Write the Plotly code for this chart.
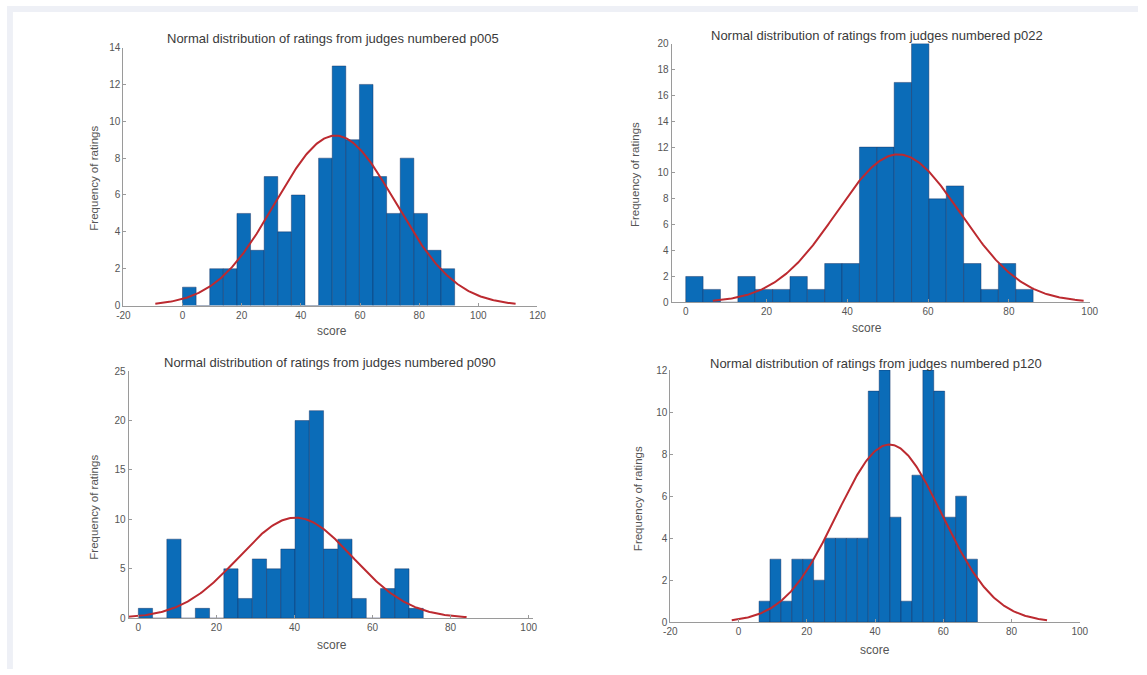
import numpy as np
import plotly.graph_objects as go

W, H = 1147, 675

# ---- data ----
judges = ["p005", "p022", "p090", "p120"]

counts_p005 = [1, 0, 2, 2, 5, 3, 7, 4, 6, 0, 8, 13, 9, 12, 7, 5, 8, 5, 3, 2]
counts_p022 = [2, 1, 0, 2, 1, 1, 2, 1, 3, 3, 12, 12, 17, 20, 8, 9, 3, 1, 3, 1]
counts_p090 = [1, 0, 8, 0, 1, 0, 5, 2, 6, 5, 7, 20, 21, 7, 8, 2, 0, 3, 5, 1]
counts_p120 = [1, 3, 1, 3, 3, 2, 4, 4, 4, 4, 11, 12, 5, 1, 7, 12, 11, 5, 6, 3]

bin_start = [0.0, 0.0, 0.0, 6.0]
bin_width = [4.6, 4.3, 3.65, 3.2]

fit_mean = [51.7, 52.6, 40.3, 44.2]
fit_std = [20.3, 15.3, 14.6, 15.4]

x_ranges = [[-20, 120], [-3.5, 100], [-2.5, 101], [-20, 100]]
y_ranges = [[0, 14], [0, 20], [0, 25], [0, 12]]
x_ticks = [[-20, 0, 20, 40, 60, 80, 100, 120], [0, 20, 40, 60, 80, 100],
           [0, 20, 40, 60, 80, 100], [-20, 0, 20, 40, 60, 80, 100]]
y_ticks = [list(range(0, 15, 2)), list(range(0, 21, 2)), list(range(0, 26, 5)), list(range(0, 13, 2))]

all_counts = [counts_p005, counts_p022, counts_p090, counts_p120]

# ---- layout geometry (pixels) ----
# (left, right, bottom, top) of each plot area
boxes = [(118, 538, 305, 42.3), (674, 1098, 301.7, 38.3),
         (123.3, 533, 623.3, 371.7), (672.7, 1088, 627.3, 370.7)]
title_pos = [(331, 33), (882, 30), (328, 363), (881, 364)]
xlabel_pos = [(330, 331), (872, 328), (330, 651), (880, 656)]
ylabel_pos = [(88, 175), (637, 172), (88, 510), (640, 502)]

BAR = "#0b6cb8"
EDGE = "rgba(20,40,90,0.7)"
RED = "#bc2a30"
AX = "#9a9a9a"
TXT = "#555555"
FONT = "Liberation Sans, Arial, sans-serif"

fig = go.Figure()
layout = dict(width=W, height=H, autosize=False,
              margin=dict(l=0, r=0, t=0, b=0),
              paper_bgcolor="white", plot_bgcolor="white",
              showlegend=False, font=dict(family=FONT, size=10, color=TXT))
annotations = []

for i, counts in enumerate(all_counts):
    k = i + 1
    xa = "x" if k == 1 else f"x{k}"
    ya = "y" if k == 1 else f"y{k}"
    counts = np.array(counts, dtype=float)
    bw = bin_width[i]
    centers = bin_start[i] + bw * (np.arange(len(counts)) + 0.5)
    fig.add_trace(go.Bar(x=centers, y=counts, width=bw, xaxis=xa, yaxis=ya,
                         marker=dict(color=BAR, line=dict(color=EDGE, width=0.6)),
                         hoverinfo="x+y"))
    mu, sd = fit_mean[i], fit_std[i]
    n = counts.sum()
    xs = np.linspace(mu - 3 * sd, mu + 3 * sd, 300)
    ys = n * bw / (sd * np.sqrt(2 * np.pi)) * np.exp(-0.5 * ((xs - mu) / sd) ** 2)
    fig.add_trace(go.Scatter(x=xs, y=ys, mode="lines", xaxis=xa, yaxis=ya,
                             line=dict(color=RED, width=2), hoverinfo="skip"))

    l, r, b, t = boxes[i]
    xkey = "xaxis" if k == 1 else f"xaxis{k}"
    ykey = "yaxis" if k == 1 else f"yaxis{k}"
    layout[xkey] = dict(domain=[l / W, r / W], range=x_ranges[i], anchor=ya,
                        tickvals=x_ticks[i], ticktext=[str(v) for v in x_ticks[i]],
                        ticks="inside", ticklen=3, tickcolor=AX,
                        showline=True, linecolor=AX, linewidth=1, showgrid=False,
                        zeroline=False, tickfont=dict(size=10, color=TXT), fixedrange=True)
    layout[ykey] = dict(domain=[1 - b / H, 1 - t / H], range=y_ranges[i], anchor=xa,
                        tickvals=y_ticks[i], ticktext=[str(v) for v in y_ticks[i]],
                        ticks="inside", ticklen=3, tickcolor=AX,
                        showline=True, linecolor=AX, linewidth=1, showgrid=False,
                        zeroline=False, tickfont=dict(size=10, color=TXT), fixedrange=True)

    tx, ty = title_pos[i]
    annotations.append(dict(x=tx / W, y=1 - ty / H, xref="paper", yref="paper",
                            text=f"Normal distribution of ratings from judges numbered {judges[i]}",
                            showarrow=False, font=dict(size=13, color="#3a3a3a"),
                            xanchor="center", yanchor="middle"))
    lx, ly = xlabel_pos[i]
    annotations.append(dict(x=lx / W, y=1 - ly / H, xref="paper", yref="paper",
                            text="score", showarrow=False, font=dict(size=12, color=TXT),
                            xanchor="center", yanchor="middle"))
    yx, yy = ylabel_pos[i]
    annotations.append(dict(x=yx / W, y=1 - yy / H, xref="paper", yref="paper",
                            text="Frequency of ratings", showarrow=False, textangle=-90,
                            font=dict(size=11.5, color=TXT), xanchor="center", yanchor="middle"))

layout["annotations"] = annotations
layout["shapes"] = [
    dict(type="rect", xref="paper", yref="paper", x0=0, x1=1, y0=1 - 6 / H, y1=1,
         fillcolor="#eef0f6", line=dict(width=0), layer="below"),
    dict(type="rect", xref="paper", yref="paper", x0=0, x1=6 / W, y0=0, y1=1,
         fillcolor="#eef0f6", line=dict(width=0), layer="below"),
]
fig.update_layout(**layout)
fig.write_html("out.html", config={"displayModeBar": False},
               post_script="document.body.style.margin='0';document.body.style.overflow='hidden';")
